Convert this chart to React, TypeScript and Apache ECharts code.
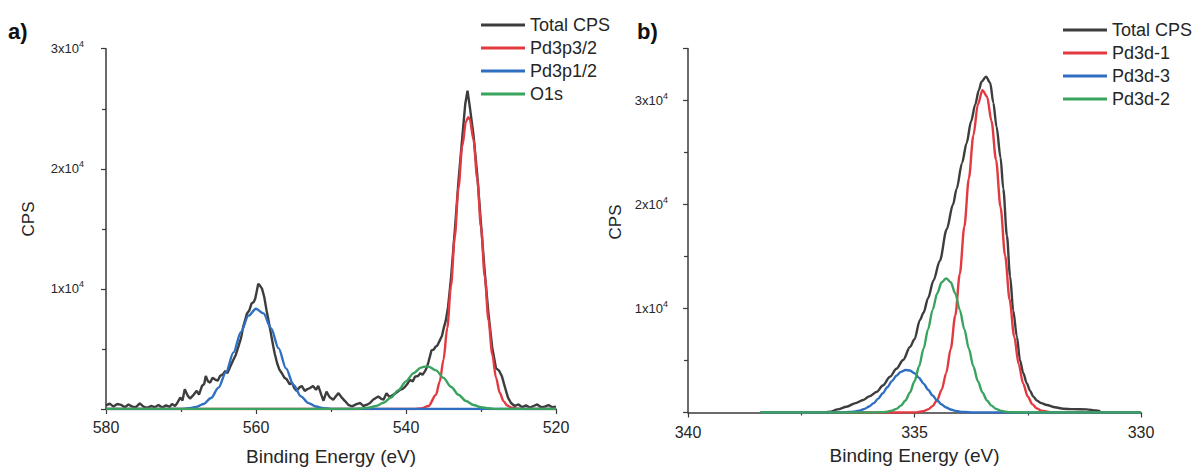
import React, { useEffect, useRef } from 'react';
import * as echarts from 'echarts';

const FONT = '"Liberation Sans", Arial, Helvetica, sans-serif';

// ---------- Panel a) Pd3p / O1s region ----------
const legendA = ['Total CPS', 'Pd3p3/2', 'Pd3p1/2', 'O1s'];
const xTicksA = [580, 560, 540, 520];
const yTickValuesA = [10000, 20000, 30000];

const totalA: number[][] = [
  [580.0, 300], [579.5, 450], [579.0, 200], [578.5, 420], [578.0, 350], [577.5, 150],
  [577.0, 380], [576.5, 200], [576.0, 150], [575.5, 470], [575.0, 200], [574.5, 100],
  [574.0, 250], [573.5, 150], [573.0, 330], [572.5, 120], [572.0, 300], [571.5, 180],
  [571.2, 420], [570.8, 250], [570.5, 500], [570.1, 950], [569.8, 700], [569.5, 1640], [569.1, 1100],
  [568.8, 870], [568.3, 1200], [567.9, 1510], [567.6, 1200], [567.2, 1920], [566.9, 2100],
  [566.7, 2750], [566.4, 2300], [566.1, 2200], [565.8, 2600], [565.5, 2470], [565.1, 2350],
  [564.8, 2750], [564.4, 2900], [564.1, 3160], [563.8, 3000], [563.5, 3430], [563.0, 4120],
  [562.7, 4500], [562.4, 5080], [562.0, 5900], [561.7, 6860], [561.5, 7300], [561.2, 7960],
  [560.9, 8200], [560.6, 8780], [560.3, 8900], [560.1, 9200], [559.9, 9800], [559.7, 10430],
  [559.5, 10300], [559.2, 10020], [558.9, 9330], [558.6, 8230], [558.4, 7600], [558.1, 6590],
  [557.7, 5220], [557.5, 4600], [557.2, 3850], [556.9, 3300], [556.6, 3020], [556.2, 2600],
  [555.9, 2470], [555.5, 2050], [555.2, 2200], [554.9, 1750], [554.6, 1510], [554.2, 1800],
  [553.9, 1920], [553.5, 1500], [553.2, 1640], [552.8, 1750], [552.4, 1920], [552.0, 1600],
  [551.7, 1920], [551.3, 1200], [551.0, 690], [550.6, 1450], [550.2, 1000], [549.7, 770],
  [549.3, 1100], [549.0, 1320], [548.5, 900], [548.1, 640], [547.7, 350], [547.2, 220],
  [546.6, 400], [546.1, 500], [545.7, 250], [545.2, 360], [544.8, 500], [544.4, 770],
  [543.7, 1040], [543.3, 850], [543.0, 770], [542.6, 1320], [542.2, 1000], [541.7, 1180],
  [541.2, 1400], [540.8, 1590], [540.4, 1700], [540.1, 1870], [539.8, 2100], [539.5, 2420],
  [539.1, 2300], [538.8, 2690], [538.4, 2750], [538.1, 2970], [537.8, 2850], [537.5, 3110],
  [537.2, 3500], [537.0, 3930], [536.8, 4400], [536.6, 4890], [536.3, 4950], [536.1, 5160],
  [535.8, 5300], [535.5, 5710], [535.2, 6100], [535.0, 6670], [534.7, 7360], [534.4, 8460],
  [534.0, 10900], [533.5, 14800], [533.0, 19000], [532.5, 22600], [532.1, 25400],
  [531.8, 26500], [531.5, 25200], [531.0, 22800], [530.5, 19500], [530.0, 15400], [529.5, 11400],
  [529.0, 7900], [528.5, 5100], [528.0, 3400], [527.6, 3200], [527.2, 2700], [526.8, 1800],
  [526.4, 950], [526.0, 500], [525.5, 250], [525.0, 380], [524.5, 150], [524.0, 300],
  [523.5, 120], [523.0, 250], [522.5, 380], [522.0, 150], [521.5, 200], [521.0, 330],
  [520.5, 150], [520.0, 200],
];

const pd3p32: number[][] = [
  [580, 0], [539, 0], [538, 37], [537, 248], [536, 1188], [535.5, 2300], [535, 4106],
  [534.5, 6755], [534, 10250], [533.5, 14320], [533, 18440], [532.5, 21890], [532, 23940],
  [531.7, 24300], [531.5, 24140], [531, 22430], [530.5, 19200], [530, 15160], [529.5, 11030],
  [529, 7390], [528.5, 4570], [528, 2600], [527.5, 1363], [527, 659], [526.5, 294],
  [526, 121], [525, 16], [524, 0], [520, 0],
];

const pd3p12: number[][] = [
  [580, 0], [570, 0], [569, 60], [568, 169], [567, 417], [566, 914], [565, 1778], [564, 3072],
  [563, 4718], [562, 6423], [561, 7773], [560, 8350], [559, 7958], [558, 6738], [557, 5065],
  [556, 3380], [555, 2000], [554, 1053], [553, 492], [552, 204], [551, 75], [550, 0], [520, 0],
];

const o1s: number[][] = [
  [580, 0], [547, 0], [546, 39], [545, 105], [544, 246], [543, 515], [542, 955], [541, 1573],
  [540, 2302], [539, 2990], [538, 3448], [537.3, 3550], [537, 3532], [536, 3212], [535, 2591],
  [534, 1858], [533, 1182], [532, 668], [531, 335], [530, 149], [529, 59], [528, 0], [520, 0],
];

// ---------- Panel b) Pd3d region ----------
const legendB = ['Total CPS', 'Pd3d-1', 'Pd3d-3', 'Pd3d-2'];
const xTicksB = [340, 335, 330];
const yTickValuesB = [10000, 20000, 30000];

const totalB: number[][] = [
  [337.0, 0], [336.85, 80], [336.7, 300], [336.5, 560], [336.3, 900], [336.13, 1200],
  [336.0, 1550], [335.83, 2000], [335.7, 2600], [335.54, 3440], [335.4, 4200], [335.25, 5050],
  [335.1, 6300], [335.0, 7050], [334.88, 8900], [334.8, 9600], [334.7, 11000], [334.58, 12700],
  [334.44, 14600], [334.29, 17600], [334.15, 20000], [334.07, 21500], [333.95, 24000],
  [333.85, 25900], [333.75, 28000], [333.66, 29600], [333.58, 31000], [333.52, 31800],
  [333.42, 32300], [333.33, 31700], [333.26, 29800], [333.19, 27500], [333.1, 24500],
  [333.04, 21500], [332.96, 17000], [332.89, 13100], [332.82, 9800], [332.74, 7300],
  [332.67, 5000], [332.6, 3800], [332.52, 2800], [332.45, 2100], [332.38, 1550], [332.3, 1150],
  [332.2, 900], [332.08, 720], [331.9, 500], [331.72, 360], [331.5, 320], [331.2, 300],
  [331.0, 200], [330.9, 120],
];

const pd3d1: number[][] = [
  [338.4, 0], [335.0, 0], [334.8, 134], [334.7, 296], [334.6, 615], [334.5, 1200], [334.4, 2200],
  [334.3, 3790], [334.2, 6135], [334.1, 9330], [334.0, 13320], [333.9, 17870], [333.8, 22510],
  [333.7, 26650], [333.6, 29640], [333.5, 31000], [333.4, 30390], [333.3, 28020], [333.2, 24270],
  [333.1, 19740], [333.0, 15090], [332.9, 10840], [332.8, 7310], [332.7, 4630], [332.6, 2760],
  [332.5, 1540], [332.4, 810], [332.3, 400], [332.2, 185], [332.0, 33], [331.8, 0], [330.0, 0],
];

const pd3d3: number[][] = [
  [338.4, 0], [336.7, 0], [336.5, 27], [336.4, 56], [336.3, 110], [336.2, 203], [336.1, 353],
  [336.0, 582], [335.9, 906], [335.8, 1331], [335.7, 1849], [335.6, 2427], [335.5, 3011],
  [335.4, 3529], [335.3, 3908], [335.2, 4090], [335.1, 4043], [335.0, 3778], [334.9, 3334],
  [334.8, 2781], [334.7, 2192], [334.6, 1633], [334.5, 1150], [334.4, 764], [334.3, 480],
  [334.2, 285], [334.1, 160], [334.0, 85], [333.9, 42], [333.7, 0], [330.0, 0],
];

const pd3d2: number[][] = [
  [338.4, 0], [335.9, 0], [335.7, 38], [335.6, 85], [335.5, 178], [335.4, 353], [335.3, 659],
  [335.2, 1160], [335.1, 1922], [335.0, 3006], [334.9, 4420], [334.8, 6133], [334.7, 8015],
  [334.6, 9870], [334.5, 11450], [334.4, 12520], [334.3, 12900], [334.2, 12520], [334.1, 11450],
  [334.0, 9870], [333.9, 8015], [333.8, 6133], [333.7, 4420], [333.6, 3006], [333.5, 1922],
  [333.4, 1160], [333.3, 659], [333.2, 353], [333.1, 178], [333.0, 85], [332.9, 38],
  [332.7, 0], [330.0, 0],
];

const COLORS = {
  total: '#3d3d3d',
  red: '#e23a40',
  blue: '#2f6fc2',
  green: '#3aa35f',
};

const axisColor = '#3a3a3a';
const textColor = '#262626';

function yLabelFormatter(ticks: number[]) {
  return (v: number) => (ticks.includes(v) ? `{m|${v / 10000}x10}{s|4}` : '');
}

const yRich = {
  m: { fontSize: 13, color: textColor, fontFamily: FONT, lineHeight: 18 },
  s: { fontSize: 9, color: textColor, fontFamily: FONT, verticalAlign: 'top', lineHeight: 18, padding: [0, 0, 6, 0] },
};

function xAxisCfg(gridIndex: number, min: number, max: number, interval: number, ticks: number[], nameGap: number, labelMargin: number) {
  return {
    type: 'value',
    gridIndex,
    min,
    max,
    interval,
    inverse: true,
    name: 'Binding Energy (eV)',
    nameLocation: 'middle',
    nameGap,
    nameTextStyle: { fontSize: 19, color: textColor, fontFamily: FONT },
    axisLine: { show: true, onZero: false, lineStyle: { color: axisColor, width: 1.5 } },
    axisTick: { show: true, inside: false, length: 5, lineStyle: { color: axisColor, width: 1.2 } },
    minorTick: { show: true, splitNumber: 2, length: 3, lineStyle: { color: axisColor, width: 1.2 } },
    axisLabel: {
      margin: labelMargin,
      fontSize: 16,
      color: textColor,
      fontFamily: FONT,
      formatter: (v: number) => (ticks.includes(v) ? String(v) : ''),
    },
    splitLine: { show: false },
    minorSplitLine: { show: false },
  };
}

function yAxisCfg(gridIndex: number, max: number, ticks: number[], labelMargin: number) {
  return {
    type: 'value',
    gridIndex,
    min: 0,
    max,
    interval: 10000,
    axisLine: { show: true, onZero: false, lineStyle: { color: axisColor, width: 1.5 } },
    axisTick: { show: true, inside: false, length: 5, lineStyle: { color: axisColor, width: 1.2 } },
    minorTick: { show: true, splitNumber: 2, length: 4, lineStyle: { color: axisColor, width: 1.2 } },
    axisLabel: {
      margin: labelMargin,
      formatter: yLabelFormatter(ticks),
      rich: yRich,
    },
    splitLine: { show: false },
    minorSplitLine: { show: false },
  };
}

function lineSeries(name: string, data: number[][], color: string, idx: number, smooth: boolean | number, width: number) {
  return {
    type: 'line',
    name,
    data,
    xAxisIndex: idx,
    yAxisIndex: idx,
    showSymbol: false,
    symbol: 'none',
    smooth,
    smoothMonotone: 'x',
    color,
    itemStyle: { color },
    lineStyle: { color, width },
    emphasis: { disabled: true },
    silent: true,
  };
}

function legendCfg(data: string[], left: number, top: number) {
  return {
    data,
    left,
    top,
    orient: 'vertical',
    icon: 'rect',
    itemWidth: 44,
    itemHeight: 3,
    itemGap: 5,
    selectedMode: false,
    textStyle: { fontSize: 18, color: textColor, fontFamily: FONT, padding: [0, 0, 0, 0] },
  };
}

export default function App() {
  const ref = useRef<HTMLDivElement>(null);

  useEffect(() => {
    if (!ref.current) return;
    const chart = echarts.init(ref.current, undefined, { renderer: 'svg' });
    chart.setOption({
      animation: false,
      backgroundColor: '#ffffff',
      grid: [
        { left: 106, right: 1196 - 556, top: 48.7, bottom: 471 - 413, containLabel: false },
        { left: 688, right: 1196 - 1141, top: 48.5, bottom: 471 - 412.5, containLabel: false },
      ],
      xAxis: [
        xAxisCfg(0, 520, 580, 20, xTicksA, 38, 10),
        xAxisCfg(1, 330, 340, 5, xTicksB, 33, 12),
      ],
      yAxis: [
        yAxisCfg(0, 30000, yTickValuesA, 22),
        yAxisCfg(1, 35000, yTickValuesB, 20),
      ],
      legend: [legendCfg(legendA, 476, 11), legendCfg(legendB, 1058, 16)],
      series: [
        lineSeries('Total CPS', totalA, COLORS.total, 0, false, 2.4),
        lineSeries('Pd3p3/2', pd3p32, COLORS.red, 0, 0.3, 2.4),
        lineSeries('Pd3p1/2', pd3p12, COLORS.blue, 0, 0.3, 2.4),
        lineSeries('O1s', o1s, COLORS.green, 0, 0.3, 2.4),
        lineSeries('Total CPS', totalB, COLORS.total, 1, 0.3, 2.4),
        lineSeries('Pd3d-1', pd3d1, COLORS.red, 1, 0.3, 2.4),
        lineSeries('Pd3d-3', pd3d3, COLORS.blue, 1, 0.3, 2.4),
        lineSeries('Pd3d-2', pd3d2, COLORS.green, 1, 0.3, 2.4),
      ],
      graphic: [
        { type: 'text', left: 8, top: 20, style: { text: 'a)', font: `bold 22px ${FONT}`, fill: '#111' } },
        { type: 'text', left: 637, top: 20, style: { text: 'b)', font: `bold 22px ${FONT}`, fill: '#111' } },
        {
          type: 'text', x: 28, y: 219, rotation: Math.PI / 2,
          style: { text: 'CPS', font: `17px ${FONT}`, fill: textColor, align: 'center', verticalAlign: 'middle' },
        },
        {
          type: 'text', x: 615, y: 222, rotation: Math.PI / 2,
          style: { text: 'CPS', font: `17px ${FONT}`, fill: textColor, align: 'center', verticalAlign: 'middle' },
        },
      ],
    });
    return () => chart.dispose();
  }, []);

  return (
    <div
      ref={ref}
      style={{ position: 'fixed', left: 0, top: 0, width: 1196, height: 471, background: '#fff' }}
    />
  );
}
